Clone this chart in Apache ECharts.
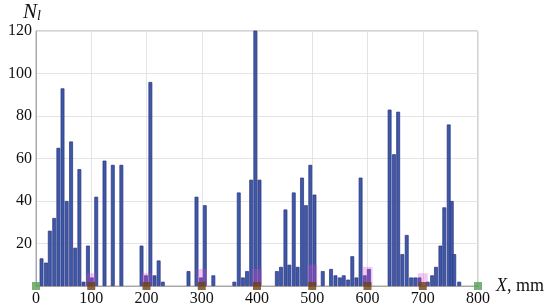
<!DOCTYPE html>
<html>
<head>
<meta charset="utf-8">
<script src="https://cdn.jsdelivr.net/npm/echarts@6/dist/echarts.min.js"></script>
<style>
  html, body { margin: 0; padding: 0; background: #fff; }
  #main { width: 550px; height: 308px; }
</style>
</head>
<body>
<div id="main"></div>
<script>
// bar positions along the beam (mm) and counts
var xPos = [10, 18, 25, 33, 40.5, 48, 55.5, 63.5, 71, 78.5, 86, 94, 101, 109, 124, 139, 154.5,
            191, 199, 207, 214.5, 222, 229.5,
            276, 290.5, 298.5, 305.5, 321,
            359, 367, 374.5, 382, 389.5, 397, 404.5,
            436, 443.5, 451.5, 458.5, 466.5, 473.5, 481.5, 488.5, 496.5, 504, 519,
            534, 542, 550, 557, 565, 572.5, 580, 587.5, 595, 602.5,
            640, 648, 655.5, 663, 671, 679, 686.5, 694,
            709, 717, 724, 732, 739, 747, 752.5, 757, 766];
var counts = [13, 11, 26, 32, 65, 93, 40, 68, 18, 55, 2, 19, 4, 42, 59, 57, 57,
              19, 5, 96, 5, 12, 2,
              7, 42, 4, 38, 5,
              2, 44, 4, 7, 50, 121, 50,
              7, 9, 36, 10, 44, 9, 51, 38, 57, 43, 7,
              8, 5, 4, 5, 3, 14, 4, 51, 5, 8,
              83, 62, 82, 15, 24, 4, 4, 4,
              2, 5, 9, 19, 37, 76, 40, 15, 2];

// supports
var supports = [100, 200, 300, 400, 500, 600, 700];
var supportBand = [6, 6, 8, 8, 10, 9, 6];
var ends = [0, 800];

var myChart = echarts.init(document.getElementById('main'));

var serif = '"Liberation Serif", "DejaVu Serif", serif';

var option = {
    animation: false,
    grid: {
        left: 36,
        right: 72,
        top: 31,
        bottom: 22,
        show: true,
        borderColor: '#a8a8a8',
        borderWidth: 1
    },
    xAxis: [
        {
            type: 'value',
            min: 0,
            max: 800,
            interval: 100,
            name: '{x|X}, mm',
            nameLocation: 'end',
            nameGap: 6,
            nameTextStyle: {
                fontFamily: serif,
                fontSize: 18,
                color: '#111',
                align: 'left',
                verticalAlign: 'middle',
                rich: {
                    x: { fontFamily: serif, fontStyle: 'italic', fontSize: 18, color: '#111' }
                }
            },
            axisLine: { show: true, lineStyle: { color: '#a8a8a8' } },
            axisTick: { show: false },
            axisLabel: { fontFamily: serif, fontSize: 16, color: '#111', margin: 5 },
            splitLine: { show: true, lineStyle: { color: '#e4e4e4' } }
        },
        {
            type: 'value',
            min: 0,
            max: 800,
            show: false
        }
    ],
    yAxis: {
        type: 'value',
        min: 0,
        max: 120,
        interval: 20,
        name: '{n|N}{s|l}',
        nameLocation: 'end',
        nameGap: 6,
        nameTextStyle: {
            padding: [0, 8, 0, 0],
            rich: {
                n: { fontFamily: serif, fontStyle: 'italic', fontSize: 21, color: '#111' },
                s: { fontFamily: serif, fontStyle: 'italic', fontSize: 14, color: '#111', verticalAlign: 'bottom', padding: [8, 0, 0, 0] }
            }
        },
        axisLine: { show: true, lineStyle: { color: '#a8a8a8' } },
        axisTick: { show: false },
        axisLabel: { fontFamily: serif, fontSize: 16, color: '#111', margin: 4, showMinLabel: false },
        splitLine: { show: true, lineStyle: { color: '#e4e4e4' } }
    },
    series: [
        {
            name: 'N',
            type: 'bar',
            xAxisIndex: 0,
            barWidth: 3.8,
            itemStyle: {
                color: '#3d5aa8',
                borderColor: '#2b317c',
                borderWidth: 0.7
            },
            data: xPos.map(function (x, i) { return [x, counts[i]]; })
        },
        {
            name: 'supports',
            type: 'bar',
            xAxisIndex: 1,
            barWidth: 10,
            itemStyle: { color: 'rgba(214, 70, 214, 0.3)' },
            data: supports.map(function (x, i) { return [x, supportBand[i]]; }),
            z: 3
        },
        {
            name: 'pins',
            type: 'scatter',
            symbol: 'rect',
            symbolSize: 8,
            clip: false,
            itemStyle: { color: '#6e4212' },
            data: supports.map(function (x) { return [x, 0]; }),
            z: 4
        },
        {
            name: 'ends',
            type: 'scatter',
            symbol: 'rect',
            symbolSize: 8,
            clip: false,
            itemStyle: { color: '#58a050' },
            data: ends.map(function (x) { return [x, 0]; }),
            z: 4
        }
    ]
};
myChart.setOption(option);
</script>
</body>
</html>
